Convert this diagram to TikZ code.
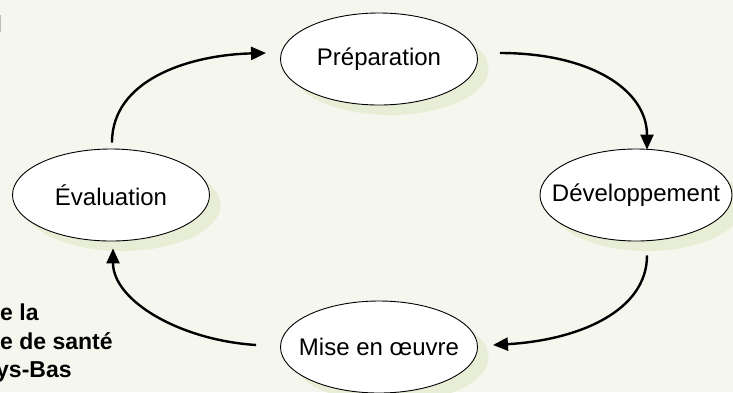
\documentclass[tikz,border=0pt]{standalone}
\usepackage{fontspec}
\setmainfont{Liberation Sans}
\usetikzlibrary{shapes.geometric,shadows,calc,arrows.meta}
\definecolor{bgc}{HTML}{F5F7EE}
\definecolor{shadowc}{HTML}{E8EDD6}
\definecolor{barc}{HTML}{BDBDBD}
\tikzset{
  stage/.style={ellipse, draw=black, line width=0.9pt, fill=white,
    minimum width=197pt, minimum height=92pt, inner sep=0pt,
    font=\fontsize{24}{28}\selectfont,
    drop shadow={shadow xshift=11pt, shadow yshift=-10pt, fill=shadowc, opacity=1}},
  flow/.style={line width=2.4pt, -{Triangle[length=15pt,width=13pt]}},
  side/.style={font=\fontsize{23}{27}\selectfont\bfseries, inner sep=0pt, anchor=base west}
}
\newcommand{\fixw}[1]{\makebox[0pt]{#1}}
\begin{document}
\begin{tikzpicture}[x=1pt,y=-1pt]
\fill[bgc] (0,0) rectangle (733,392);
\useasboundingbox (0,0) rectangle (733,392);
\clip (0,0) rectangle (733,392);
\fill[barc] (0,15) rectangle (1.2,32);
\node[stage] (prep) at (379,59) {\fixw{Préparation}};
\node[stage, minimum width=192pt] (dev) at (636,195) {\fixw{Développement}};
\node[stage] (mise) at (379,347) {\fixw{Mise en œuvre}};
\node[stage] (eval) at (111,195) {\fixw{Évaluation}};
\node[side] (t1) at (0,320) {e la};
\node[side] (t2) at (0,349) {e de santé};
\node[side] (t3) at (-4,377) {ys-Bas};
\draw[flow] ($(prep.east)+(22,-6)$) .. controls ($(prep.east)+(112,-6)$) and ($(dev.north)+(11,-59)$) .. ($(dev.north)+(11,1)$);
\draw[flow] ($(dev.south)+(11,14)$) .. controls ($(dev.south)+(11,69)$) and ($(mise.east)+(102,-7)$) .. ($(mise.east)+(15,-2)$);
\draw[flow] ($(mise.west)+(-24,-2)$) .. controls ($(mise.west)+(-101,-7)$) and ($(eval.south)+(2,59)$) .. ($(eval.south)+(2,7)$);
\draw[flow] ($(eval.north)+(1,-6)$) .. controls ($(eval.north)+(1,-69)$) and ($(prep.west)+(-91,-4)$) .. ($(prep.west)+(-14,-6)$);
\end{tikzpicture}
\end{document}
